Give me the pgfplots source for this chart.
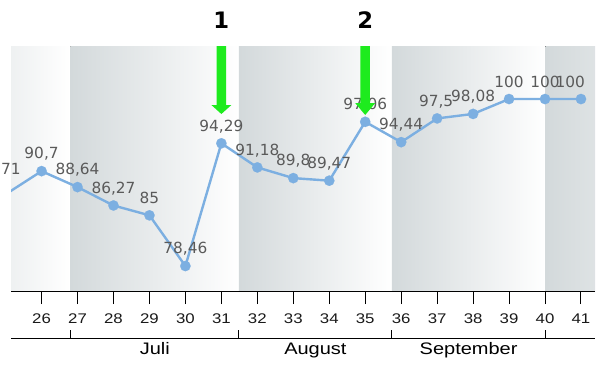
\documentclass[border=0pt]{standalone}
\usepackage{fontspec}
\setmainfont{Liberation Sans}[FakeStretch=1.2]
\newfontfamily\dvs{DejaVu Sans}
\usepackage{pgfplots}
\usepackage{pgfplotstable}
\pgfplotsset{compat=1.18}
\definecolor{linecol}{RGB}{124,175,225}
\definecolor{lblcol}{RGB}{90,90,90}
\definecolor{bandd}{RGB}{211,217,219}
\definecolor{arrowgreen}{RGB}{30,235,30}
\pgfplotstableread{
x y dx
25 87.71 -5.25
26 90.7 0
27 88.64 0
28 86.27 0
29 85 0
30 78.46 0
31 94.29 0
32 91.18 0
33 89.8 0
34 89.47 0
35 97.06 0
36 94.44 0
37 97.5 -0.75
38 98.08 0
39 100 0
40 100 0
41 100 -8
}\datatable
\begin{document}
\begin{tikzpicture}
\begin{axis}[
 at={(0,0)}, anchor=south west,
 scale only axis, width=438pt, height=183.75pt,
 xmin=25.15, xmax=41.39, ymin=75.24, ymax=106.84,
 axis x line*=bottom, axis y line=none,
 x axis line style={-, line width=0.75pt, black},
 xtick={26,...,41},
 tick align=outside, major tick length=9.75pt,
 tick style={black, line width=0.75pt},
 xticklabel style={font=\fontsize{10.5}{12}\selectfont, text=black!90, yshift=-3.75pt},
 ytick=\empty,
 /pgf/number format/assume math mode=true,
 /pgf/number format/use comma,
 clip mode=individual,
 axis on top,
 lbl/.style={nodes near coords,
  visualization depends on={\thisrow{dx} \as \dx},
  every node near coord/.style={anchor=center, yshift=12.75pt, xshift=\dx pt,
    font=\dvs\fontsize{11.5}{13}\selectfont, text=lblcol}},
]
\fill[left color=bandd!38!white, right color=white] (axis cs:25.15,75.24) rectangle (axis cs:26.81,106.84);
\fill[left color=bandd, right color=white] (axis cs:26.81,75.24) rectangle (axis cs:31.49,106.84);
\fill[left color=bandd, right color=white] (axis cs:31.49,75.24) rectangle (axis cs:35.74,106.84);
\fill[left color=bandd, right color=white] (axis cs:35.74,75.24) rectangle (axis cs:40.01,106.84);
\fill[left color=bandd, right color=bandd!75!white] (axis cs:40.01,75.24) rectangle (axis cs:41.39,106.84);
% line through all weeks
\addplot[linecol, line width=1.8pt, mark=none] table[x=x, y=y] {\datatable};
% markers and labels for weeks 26-41
\addplot[only marks, color=linecol, mark=*, mark size=3.9pt,
  mark options={solid, fill=linecol, draw=linecol, line width=0.1pt},
  point meta=\thisrow{y}, lbl, skip coords between index={0}{1}] table[x=x, y=y] {\datatable};
% label of the clipped week 25 point
\node[font=\dvs\fontsize{11.5}{13}\selectfont, text=lblcol] at ([xshift=-5.25pt, yshift=18.5pt]axis cs:25,87.71) {87,71};
% arrows
\fill[arrowgreen] ([xshift=-3.56pt]axis cs:31,106.84) -- ([xshift=3.56pt]axis cs:31,106.84) -- ([xshift=3.56pt]axis cs:31,99.23) -- ([xshift=7.5pt]axis cs:31,99.23) -- (axis cs:31,98.07) -- ([xshift=-7.5pt]axis cs:31,99.23) -- ([xshift=-3.56pt]axis cs:31,99.23) -- cycle;
\fill[arrowgreen] ([xshift=-3.56pt]axis cs:35,106.84) -- ([xshift=3.56pt]axis cs:35,106.84) -- ([xshift=3.56pt]axis cs:35,99.48) -- ([xshift=7.5pt]axis cs:35,99.48) -- (axis cs:35,97.94) -- ([xshift=-7.5pt]axis cs:35,99.48) -- ([xshift=-3.56pt]axis cs:35,99.48) -- cycle;
\node[font=\dvs\bfseries\fontsize{17}{20}\selectfont] at ([yshift=19.5pt]axis cs:31,106.84) {1};
\node[font=\dvs\bfseries\fontsize{17}{20}\selectfont] at ([yshift=19.5pt]axis cs:35,106.84) {2};
% month axis
\draw[black, line width=0.75pt] ([yshift=-35.25pt]axis cs:25.15,75.24) -- ([yshift=-35.25pt]axis cs:41.39,75.24);
\draw[black, line width=0.75pt] ([yshift=-35.25pt]axis cs:26.81,75.24) -- ([yshift=-29.25pt]axis cs:26.81,75.24);
\draw[black, line width=0.75pt] ([yshift=-35.25pt]axis cs:31.49,75.24) -- ([yshift=-29.25pt]axis cs:31.49,75.24);
\draw[black, line width=0.75pt] ([yshift=-35.25pt]axis cs:35.74,75.24) -- ([yshift=-29.25pt]axis cs:35.74,75.24);
\draw[black, line width=0.75pt] ([yshift=-35.25pt]axis cs:40.01,75.24) -- ([yshift=-29.25pt]axis cs:40.01,75.24);
\node[anchor=base, font=\fontsize{12.5}{14}\selectfont] at ([yshift=-47.25pt]axis cs:29.15,75.24) {Juli};
\node[anchor=base, font=\fontsize{12.5}{14}\selectfont] at ([yshift=-47.25pt]axis cs:33.615,75.24) {August};
\node[anchor=base, font=\fontsize{12.5}{14}\selectfont] at ([yshift=-47.25pt]axis cs:37.875,75.24) {September};
\end{axis}
\pgfresetboundingbox
\path (-8.25pt,-60.75pt) rectangle (449.25pt,218.25pt);
\end{tikzpicture}
\end{document}
